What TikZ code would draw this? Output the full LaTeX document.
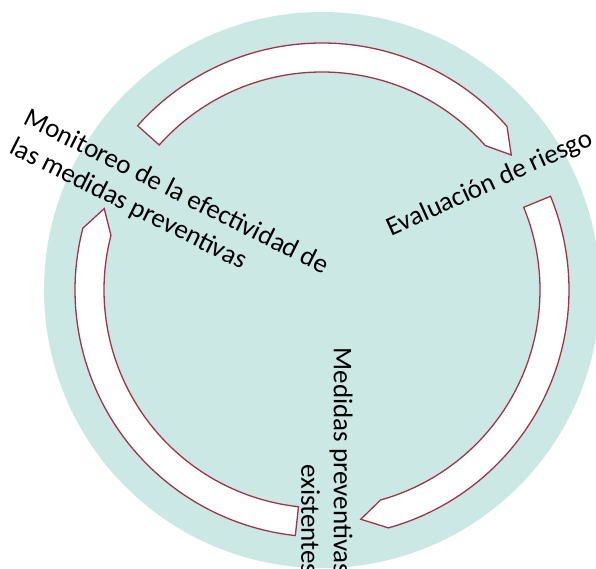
\documentclass[tikz,border=0pt]{standalone}
\usepackage{fontspec}
\setmainfont{Carlito}
\usetikzlibrary{positioning}
\definecolor{cyclebg}{RGB}{203,232,228}
\definecolor{arrowred}{RGB}{160,52,72}

\begin{document}
\begin{tikzpicture}[x=1pt, y=1pt,
  band/.style={draw=arrowred, fill=white, line width=1.3pt, line join=miter},
  steplabel/.style={font=\fontsize{27}{32.5}\selectfont, inner sep=0pt}
]
  \useasboundingbox (0,0) rectangle (596,568);
  \clip (0,0) rectangle (596,568);
  \coordinate (ctr) at (322,278);
  \fill[cyclebg] (ctr) circle[radius=278];
  % the three arrows of the cycle
  \foreach \a/\b in {138.3/41.5, 22.3/-74.4, -96.2/-194.5} {
    \draw[band, shift={(ctr)}] (\a:247) arc[start angle=\a, end angle=\b, radius=247]
      -- ({\b-6}:232.5) -- (\b:218) arc[start angle=\b, end angle=\a, radius=218] -- cycle;
  }
  \node[steplabel, rotate=24.4] (evalua) at (490,384) {Evaluación de riesgo};
  \node[steplabel, rotate=-90, align=right] (medidas) at (327,107) {Medidas preventivas\\existentes};
  \node[steplabel, rotate=-26.6, align=left] (monitor) at (169,361) {Monitoreo de la efectividad de\\las medidas preventivas};
\end{tikzpicture}
\end{document}
